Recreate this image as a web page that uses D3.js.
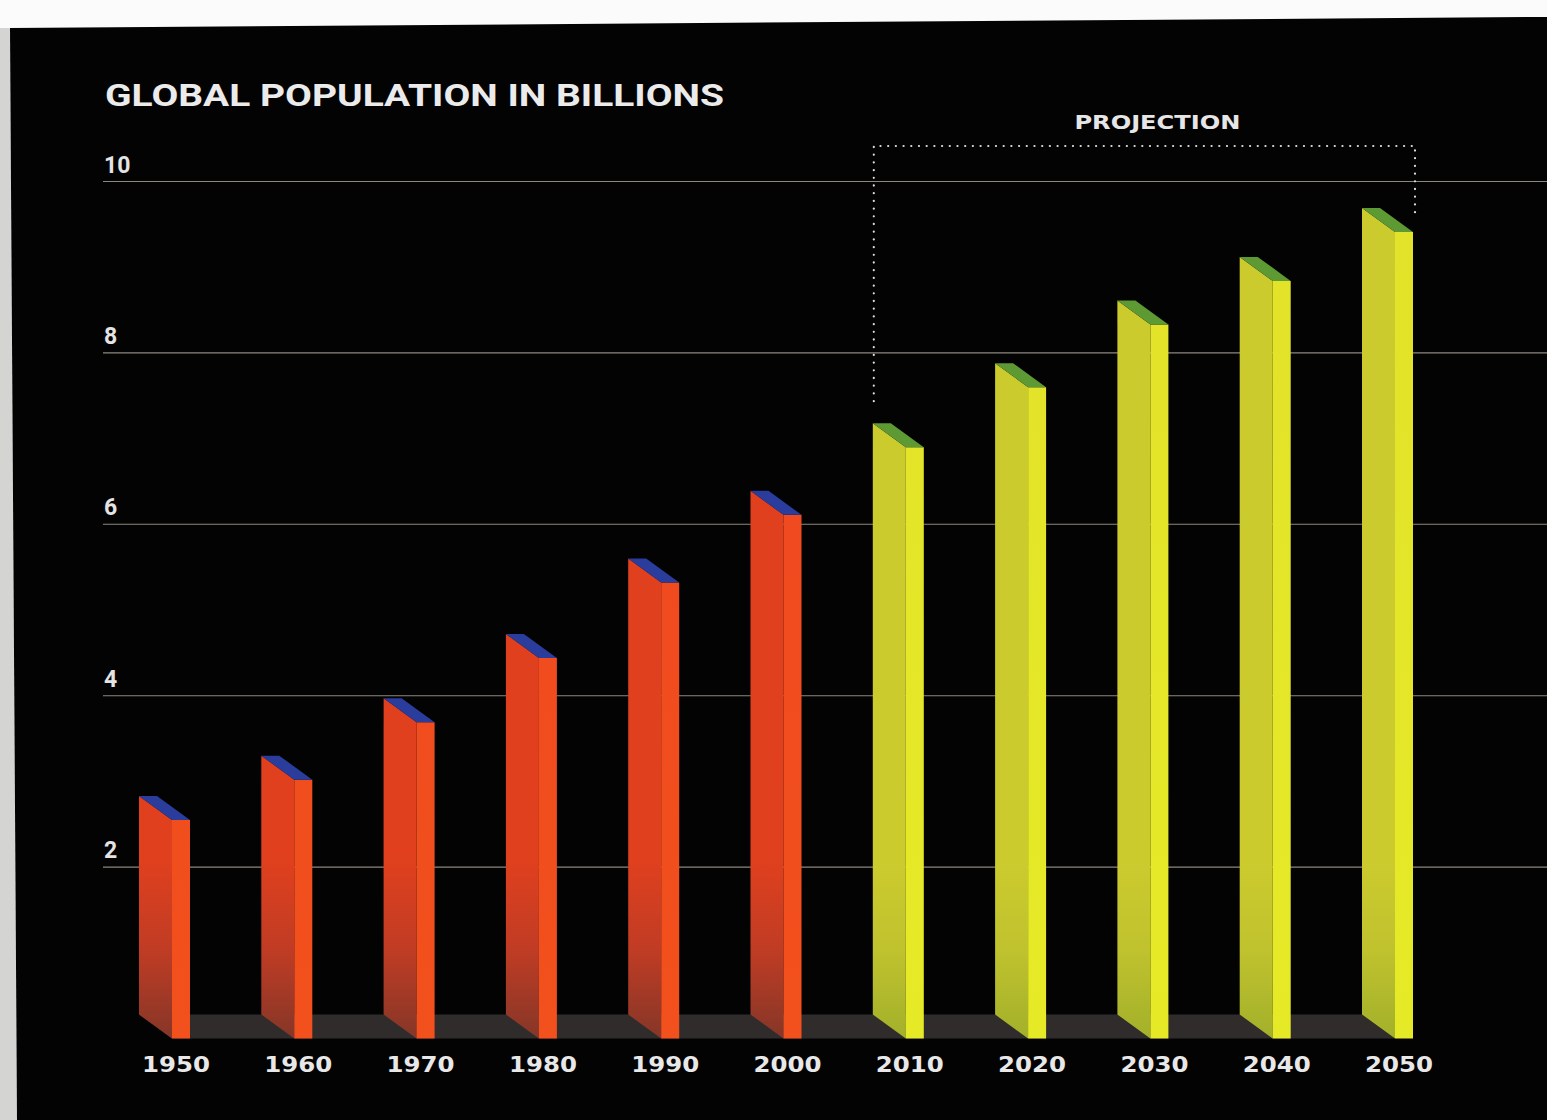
<!DOCTYPE html>
<html>
<head>
<meta charset="utf-8">
<script src="https://cdn.jsdelivr.net/npm/d3@7/dist/d3.min.js"></script>
<style>
  html, body { margin: 0; padding: 0; background: #fbfbfb; }
  svg { display: block; }
</style>
</head>
<body>
<svg id="chart" width="1547" height="1120"></svg>
<script>
// World population, billions (2010 onward are projections)
const years = [1950, 1960, 1970, 1980, 1990, 2000, 2010, 2020, 2030, 2040, 2050];
const population = [2.55, 3.02, 3.69, 4.44, 5.32, 6.11, 6.90, 7.60, 8.33, 8.84, 9.41];
const projectionStart = 2010;
const yTicks = [2, 4, 6, 8, 10];
const yTickLabels = ["2", "4", "6", "8", "10"];
const titleText = "GLOBAL POPULATION IN BILLIONS";
const projectionText = "PROJECTION";

const W = 1547, H = 1120;
const svg = d3.select("#chart");

// page: black panel with a light margin on top and left
svg.append("rect").attr("width", W).attr("height", H).attr("fill", "#fbfbfb");
svg.append("polygon")
  .attr("points", "0,28 10,28 17,1120 0,1120")
  .attr("fill", "#d4d4d2");
svg.append("polygon")
  .attr("points", "10,28 1541,17 1547,17 1547,1120 17,1120")
  .attr("fill", "#030303");

// scales: x gives the right edge of each bar's front face
const x = d3.scalePoint().domain(years).range([190, 1413]);
const y = d3.scaleLinear().domain([0, 10]).range([1038.5, 181.5]);

// box geometry for the extruded bars
const frontW = 18;   // front face width
const depthX = 33;   // recession to the back-left
const depthY = 24;

const defs = svg.append("defs");
const redSide = defs.append("linearGradient").attr("id", "redSide")
  .attr("gradientUnits", "userSpaceOnUse").attr("x1", 0).attr("x2", 0).attr("y1", 860).attr("y2", 1040);
redSide.append("stop").attr("offset", 0).attr("stop-color", "#e0401e");
redSide.append("stop").attr("offset", 0.5).attr("stop-color", "#c03c24");
redSide.append("stop").attr("offset", 1).attr("stop-color", "#843628");
const redFront = defs.append("linearGradient").attr("id", "redFront")
  .attr("gradientUnits", "userSpaceOnUse").attr("x1", 0).attr("x2", 0).attr("y1", 480).attr("y2", 1040);
redFront.append("stop").attr("offset", 0).attr("stop-color", "#ef4a20");
redFront.append("stop").attr("offset", 1).attr("stop-color", "#f2501c");
const yelSide = defs.append("linearGradient").attr("id", "yelSide")
  .attr("gradientUnits", "userSpaceOnUse").attr("x1", 0).attr("x2", 0).attr("y1", 860).attr("y2", 1040);
yelSide.append("stop").attr("offset", 0).attr("stop-color", "#cccb2e");
yelSide.append("stop").attr("offset", 0.5).attr("stop-color", "#c0c22e");
yelSide.append("stop").attr("offset", 1).attr("stop-color", "#a2b02a");
const yelFront = defs.append("linearGradient").attr("id", "yelFront")
  .attr("gradientUnits", "userSpaceOnUse").attr("x1", 0).attr("x2", 0).attr("y1", 200).attr("y2", 1040);
yelFront.append("stop").attr("offset", 0).attr("stop-color", "#e2e22a");
yelFront.append("stop").attr("offset", 1).attr("stop-color", "#e6ea26");

// gridlines and y labels
const grid = svg.append("g");
grid.selectAll("line").data(yTicks).join("line")
  .attr("x1", 103).attr("x2", W)
  .attr("y1", d => y(d)).attr("y2", d => y(d))
  .attr("stroke", "#8e877e").attr("stroke-width", 1.1);
grid.selectAll("text").data(yTicks).join("text")
  .attr("x", 104).attr("y", d => y(d) - 9)
  .attr("fill", "#e4e4e4")
  .attr("font-family", "Roboto, 'DejaVu Sans', sans-serif")
  .attr("font-weight", 700)
  .attr("font-size", 23)
  .text((d, i) => yTickLabels[i]);

// title
svg.append("text")
  .attr("x", 105).attr("y", 106)
  .attr("fill", "#ebebeb")
  .attr("font-family", "Roboto, sans-serif")
  .attr("font-weight", 700)
  .attr("font-size", 31)
  .attr("textLength", 619).attr("lengthAdjust", "spacingAndGlyphs")
  .text(titleText);

// floor under the bars
const y0 = y(0);
const xFirst = x(years[0]), xLast = x(years[years.length - 1]);
svg.append("polygon")
  .attr("points", [
    [xFirst - frontW - depthX, y0 - depthY],
    [xLast - frontW - depthX, y0 - depthY],
    [xLast - frontW, y0],
    [xFirst - frontW, y0]
  ].map(p => p.join(",")).join(" "))
  .attr("fill", "#302c2c");

// projection bracket
const xp0 = x(projectionStart) - frontW - depthX + 1;
const xp1 = xLast + 2;
const bracketTop = 146;
svg.append("path")
  .attr("d", `M${xp0},${y(population[years.indexOf(projectionStart)]) - depthY - 22} V${bracketTop} H${xp1} V${y(population[population.length - 1]) - 16}`)
  .attr("fill", "none")
  .attr("stroke", "#dcdcdc")
  .attr("stroke-width", 2.2)
  .attr("stroke-linecap", "round")
  .attr("stroke-dasharray", "0.1,7.6");
svg.append("text")
  .attr("x", (xp0 + xp1) / 2 + 13).attr("y", 129)
  .attr("text-anchor", "middle")
  .attr("fill", "#e6e6e6")
  .attr("font-family", "'DejaVu Sans', sans-serif")
  .attr("font-weight", 700)
  .attr("font-size", 19)
  .attr("textLength", 166).attr("lengthAdjust", "spacingAndGlyphs")
  .text(projectionText);

// bars
const data = years.map((yr, i) => ({ year: yr, value: population[i], projected: yr >= projectionStart }));
const bars = svg.append("g").selectAll("g").data(data).join("g");

const pts = a => a.map(p => p.join(",")).join(" ");
bars.append("polygon") // side face
  .attr("points", d => {
    const xr = x(d.year), xl = xr - frontW, yt = y(d.value);
    return pts([[xl, yt], [xl - depthX, yt - depthY], [xl - depthX, y0 - depthY], [xl, y0]]);
  })
  .attr("fill", d => d.projected ? "url(#yelSide)" : "url(#redSide)");
bars.append("polygon") // front face
  .attr("points", d => {
    const xr = x(d.year), xl = xr - frontW, yt = y(d.value);
    return pts([[xl, yt], [xr, yt], [xr, y0], [xl, y0]]);
  })
  .attr("fill", d => d.projected ? "url(#yelFront)" : "url(#redFront)");
bars.append("polygon") // top face
  .attr("points", d => {
    const xr = x(d.year), xl = xr - frontW, yt = y(d.value);
    return pts([[xl, yt], [xl - depthX, yt - depthY], [xr - depthX, yt - depthY], [xr, yt]]);
  })
  .attr("fill", d => d.projected ? "#5e9a34" : "#2b3d9c");

// year labels
svg.append("g").selectAll("text").data(years).join("text")
  .attr("x", d => x(d) - 14)
  .attr("y", 1072)
  .attr("text-anchor", "middle")
  .attr("fill", "#e8e8e8")
  .attr("font-family", "'DejaVu Sans', sans-serif")
  .attr("font-weight", 700)
  .attr("font-size", 21)
  .attr("textLength", 68).attr("lengthAdjust", "spacingAndGlyphs")
  .text(d => d);
</script>
</body>
</html>
